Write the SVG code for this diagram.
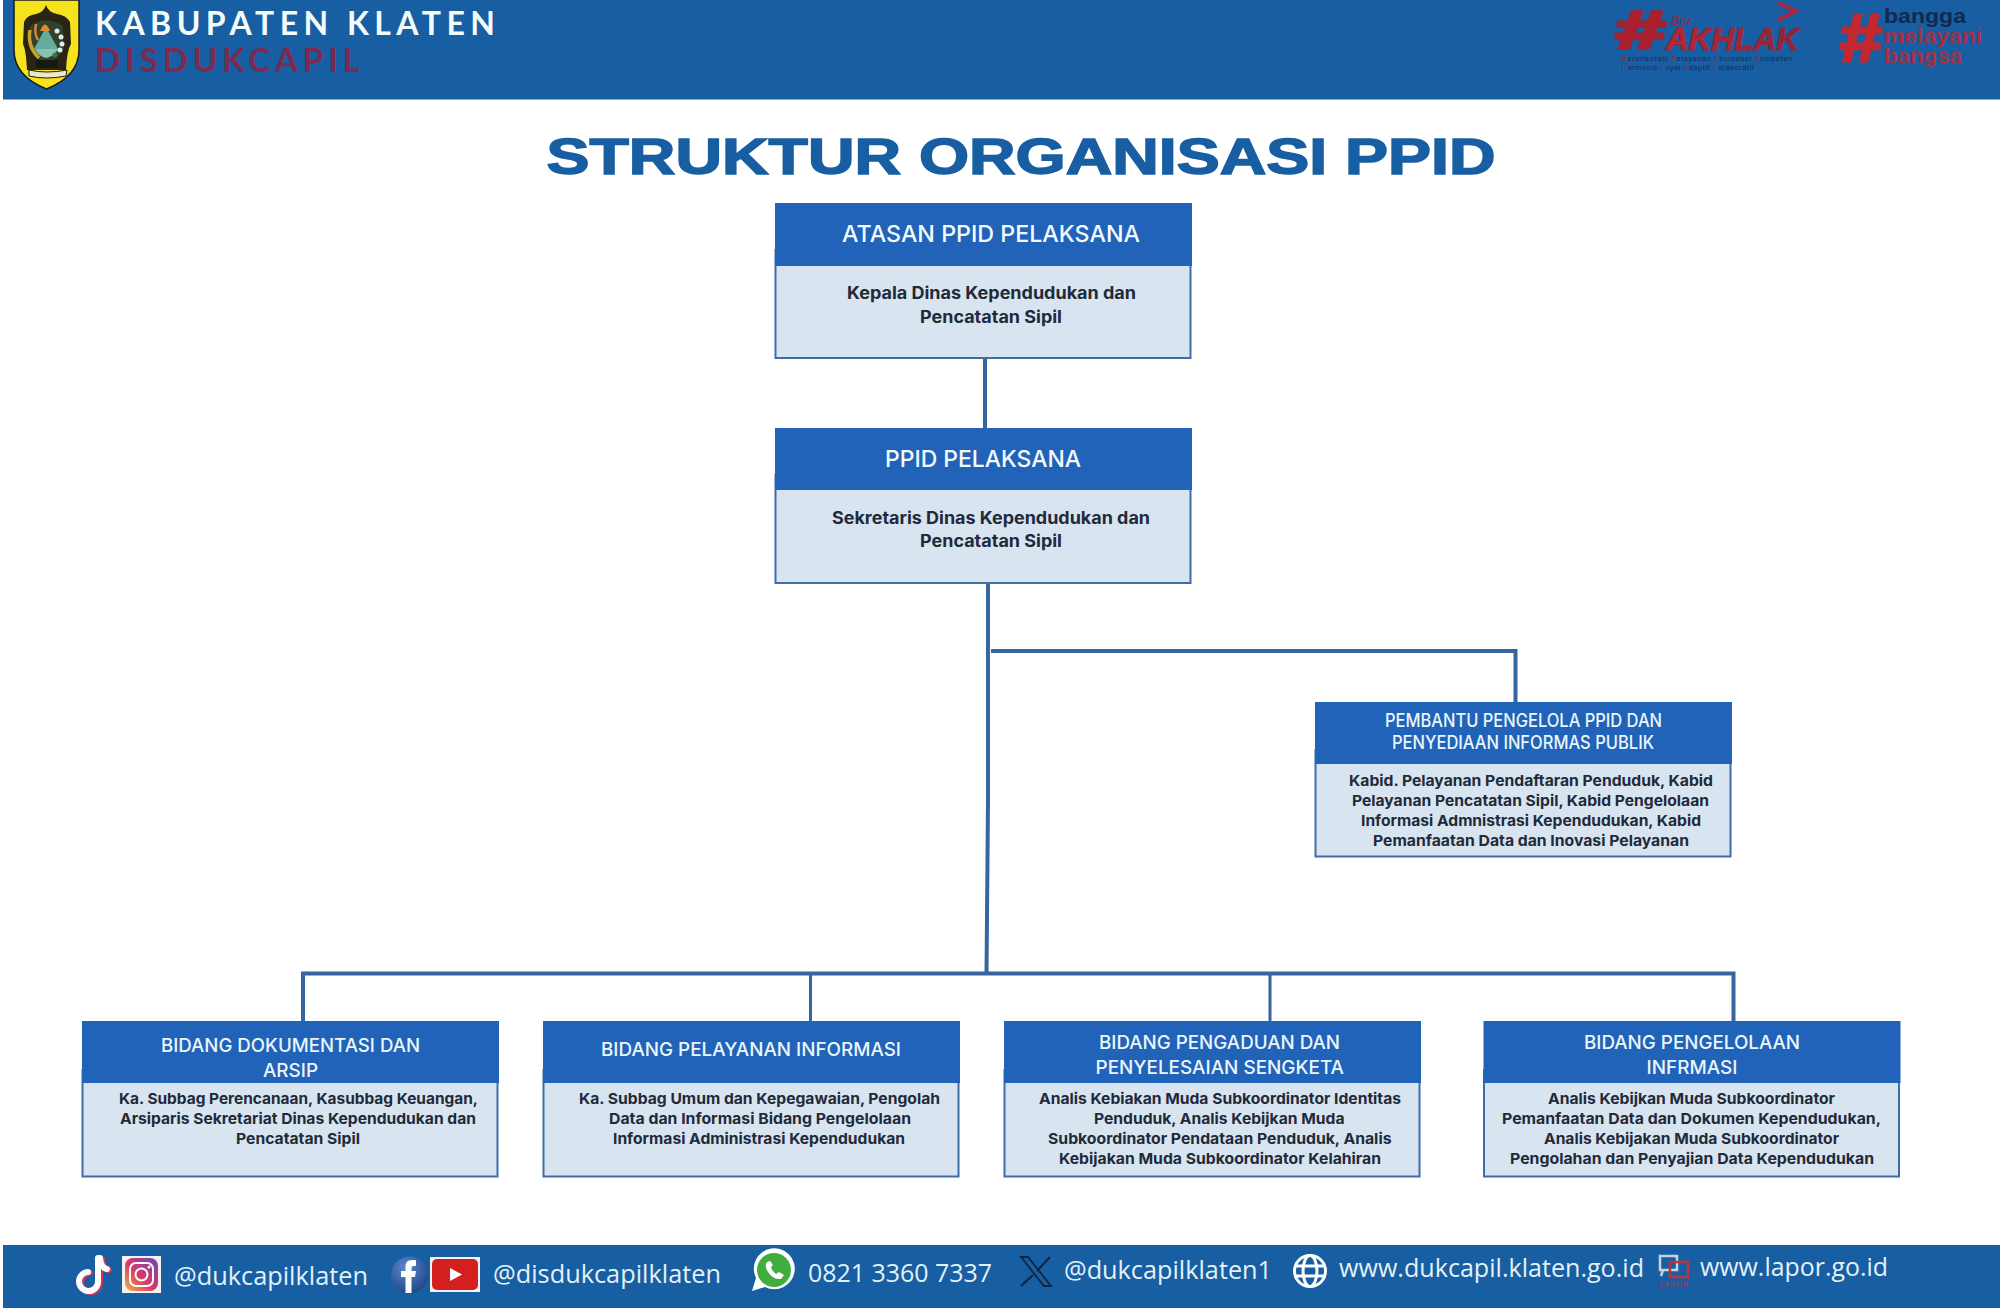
<svg xmlns="http://www.w3.org/2000/svg" width="2000" height="1308" viewBox="0 0 2000 1308">
<style>
.hd{fill:#eaf6fb;font-family:Inter,"Liberation Sans",sans-serif;font-weight:500}
.h1{font-size:23px;fill:#f4fafc}
.h2{font-size:18px}
.h3{font-size:19px}
.bd{fill:#1f2a3a;font-family:Inter,"Liberation Sans",sans-serif;font-weight:700}
.b1{font-size:17px}
.b2{font-size:15px}
.ft{fill:#e3f1f8;font-family:"Open Sans","Liberation Sans",sans-serif;font-size:26px}
.hdr{fill:#2163b8}
.bdy{fill:#d8e4ef;stroke:#3d6ea8;stroke-width:2}
.ln{fill:none;stroke:#37659f;stroke-linecap:butt}
</style>
<defs>
<linearGradient id="ig" x1="0" y1="1" x2="1" y2="0"><stop offset="0" stop-color="#f5b53c"/><stop offset=".45" stop-color="#d8396b"/><stop offset="1" stop-color="#6a46b5"/></linearGradient>
<radialGradient id="fb" cx=".4" cy=".3" r=".8"><stop offset="0" stop-color="#5b8ad0"/><stop offset="1" stop-color="#1c3f80"/></radialGradient>
<linearGradient id="rd" x1="0" y1="0" x2="1" y2="0"><stop offset="0" stop-color="#c8232c"/><stop offset="1" stop-color="#7a2a45"/></linearGradient>
</defs>
<rect width="2000" height="1308" fill="#ffffff"/>

<g id="top-banner">
<rect x="3" y="0" width="1997" height="99.500" fill="#175ea2"/>
<g id="logo">
<path d="M14 0H79V50Q79 76 46.500 89Q14 76 14 50Z" fill="#f7e21e" stroke="#1a1a1a" stroke-width="1.500"/>
<path d="M24 22Q27 15 36 14Q44 12 46 5Q48 12 57 14Q66 15 70 22L71 44Q67 50 66 70H27Q26 50 23 44Z" fill="#2a2415"/>
<path d="M30 26Q46 15 63 26L64 48Q58 60 47 62Q35 60 29 48Z" fill="#33402d"/>
<path d="M46 27L58 49H34Z" fill="#62ad9d"/>
<path d="M35 49H58Q55 56 46 58Q38 56 35 49Z" fill="#86c3b4"/>
<path d="M40 31Q45 18 50 31Z" fill="#e08a2e"/>
<path d="M30 30Q27 46 39 58" fill="none" stroke="#c9a22c" stroke-width="3.500"/>
<path d="M36 24Q34 34 38 40" fill="none" stroke="#d9822b" stroke-width="2.500"/>
<circle cx="57" cy="31" r="2.500" fill="#dfeee6"/><circle cx="61" cy="37" r="2.500" fill="#dfeee6"/><circle cx="62" cy="44" r="2.500" fill="#dfeee6"/><circle cx="60" cy="50" r="2.500" fill="#dfeee6"/><circle cx="55" cy="55" r="2.500" fill="#2f7a3f"/>
<path d="M36 60H58V68H36Z" fill="#18190f"/>
<path d="M29 70Q46 74 67 70L66 76Q46 80 29 76Z" fill="#ece8c8" stroke="#1a1a1a" stroke-width="1"/>
</g>
<text x="95" y="35" font-family="Lato,'Liberation Sans',sans-serif" font-weight="700" font-size="32" fill="#f4fbfd" textLength="400" lengthAdjust="spacing">KABUPATEN KLATEN</text>
<text x="95" y="72" font-family="Lato,'Liberation Sans',sans-serif" font-weight="700" font-size="33" fill="#7d2a50" textLength="265" lengthAdjust="spacing">DISDUKCAPIL</text>
<g id="akhlak">
<text x="1616" y="48" font-family="'Liberation Sans',sans-serif" font-weight="700" font-size="52" fill="#c4222c" stroke="#a8202e" stroke-width="3.500" textLength="49" lengthAdjust="spacingAndGlyphs">#</text>
<text x="1671" y="25" font-family="'Liberation Sans',sans-serif" font-style="italic" font-size="13" fill="#8a2a48">Ber</text>
<path d="M1778 3L1796 11L1778 20" fill="none" stroke="#a8273f" stroke-width="4"/>
<text x="1666" y="50" font-family="'Liberation Sans',sans-serif" font-weight="700" font-style="italic" font-size="31" fill="url(#rd)" stroke="#9c2438" stroke-width="1" textLength="133" lengthAdjust="spacingAndGlyphs">AKHLAK</text>
<text x="1622" y="60.500" font-family="'Liberation Sans',sans-serif" font-size="7" fill="#152a55" textLength="170"><tspan fill="#8a2a48">B</tspan>erorientasi <tspan fill="#8a2a48">P</tspan>elayanan <tspan fill="#8a2a48">A</tspan>kuntabel <tspan fill="#8a2a48">K</tspan>ompeten</text>
<text x="1622" y="69.500" font-family="'Liberation Sans',sans-serif" font-size="7" fill="#152a55" textLength="132"><tspan fill="#8a2a48">H</tspan>armonis <tspan fill="#8a2a48">L</tspan>oyal <tspan fill="#8a2a48">A</tspan>daptif <tspan fill="#8a2a48">K</tspan>olaboratif</text>
</g>
<g id="bangga">
<text x="1840" y="61" font-family="'Liberation Sans',sans-serif" font-weight="700" font-size="66" fill="#c4282e" stroke="#c4282e" stroke-width="3" textLength="42" lengthAdjust="spacingAndGlyphs">#</text>
<text x="1884" y="23" font-family="'Liberation Sans',sans-serif" font-weight="700" font-size="20" fill="#14294f" textLength="82" lengthAdjust="spacingAndGlyphs">bangga</text>
<text x="1884" y="43" font-family="'Liberation Sans',sans-serif" font-weight="700" font-size="20" fill="#a82f42" textLength="98" lengthAdjust="spacingAndGlyphs">melayani</text>
<text x="1884" y="63" font-family="'Liberation Sans',sans-serif" font-weight="700" font-size="20" fill="#a82f42" textLength="78" lengthAdjust="spacingAndGlyphs">bangsa</text>
</g>
</g>

<text id="title" x="546.500" y="174" font-family="'Liberation Sans',Arimo,sans-serif" font-weight="700" font-size="50" fill="#175ea2" stroke="#175ea2" stroke-width="1.500" textLength="949" lengthAdjust="spacingAndGlyphs">STRUKTUR ORGANISASI PPID</text>

<g id="connectors">
<path class="ln" stroke-width="4" d="M985 358V428"/>
<path class="ln" stroke-width="4" d="M988 583V800L986.500 974"/>
<path class="ln" stroke-width="4" d="M991 651H1515.500V702"/>
<path class="ln" stroke-width="4" d="M303 1021V973.500H1733.500V1021"/>
<path class="ln" stroke-width="3" d="M810.500 974V1021"/>
<path class="ln" stroke-width="3" d="M1270 974V1021"/>
</g>

<g id="node-atasan">
<rect class="bdy" x="775.500" y="250" width="415" height="108"/>
<rect class="hdr" x="775" y="203" width="417" height="63"/>
<text class="hd h1" x="842" y="241.500" textLength="298" lengthAdjust="spacingAndGlyphs">ATASAN PPID PELAKSANA</text>
<text class="bd b1" x="847" y="299" textLength="289" lengthAdjust="spacingAndGlyphs">Kepala Dinas Kependudukan dan</text>
<text class="bd b1" x="920" y="322.500" textLength="142" lengthAdjust="spacingAndGlyphs">Pencatatan Sipil</text>
</g>

<g id="node-pelaksana">
<rect class="bdy" x="775.500" y="475" width="415" height="108"/>
<rect class="hdr" x="775" y="428" width="417" height="62"/>
<text class="hd h1" x="885" y="466.500" textLength="196" lengthAdjust="spacingAndGlyphs">PPID PELAKSANA</text>
<text class="bd b1" x="832" y="524" textLength="318" lengthAdjust="spacingAndGlyphs">Sekretaris Dinas Kependudukan dan</text>
<text class="bd b1" x="920" y="546.500" textLength="142" lengthAdjust="spacingAndGlyphs">Pencatatan Sipil</text>
</g>

<g id="node-pembantu">
<rect class="bdy" x="1315.500" y="750" width="415" height="106.500"/>
<rect class="hdr" x="1315" y="702" width="417" height="62"/>
<text class="hd h2" x="1385" y="726.500" textLength="277" lengthAdjust="spacingAndGlyphs">PEMBANTU PENGELOLA PPID DAN</text>
<text class="hd h2" x="1392" y="749" textLength="262" lengthAdjust="spacingAndGlyphs">PENYEDIAAN INFORMAS PUBLIK</text>
<text class="bd b2" x="1349" y="785.500" textLength="364" lengthAdjust="spacingAndGlyphs">Kabid. Pelayanan Pendaftaran Penduduk, Kabid</text>
<text class="bd b2" x="1352" y="805.500" textLength="357" lengthAdjust="spacingAndGlyphs">Pelayanan Pencatatan Sipil, Kabid Pengelolaan</text>
<text class="bd b2" x="1361" y="825.500" textLength="340" lengthAdjust="spacingAndGlyphs">Informasi Admnistrasi Kependudukan, Kabid</text>
<text class="bd b2" x="1373" y="845.500" textLength="316" lengthAdjust="spacingAndGlyphs">Pemanfaatan Data dan Inovasi Pelayanan</text>
</g>

<g id="node-dokumentasi">
<rect class="bdy" x="82.500" y="1070" width="415" height="106.500"/>
<rect class="hdr" x="82" y="1021" width="417" height="62"/>
<text class="hd h3" x="161" y="1051.500" textLength="259" lengthAdjust="spacingAndGlyphs">BIDANG DOKUMENTASI DAN</text>
<text class="hd h3" x="263" y="1076.500" textLength="55" lengthAdjust="spacingAndGlyphs">ARSIP</text>
<text class="bd b2" x="119" y="1104" textLength="359" lengthAdjust="spacingAndGlyphs">Ka. Subbag Perencanaan, Kasubbag Keuangan,</text>
<text class="bd b2" x="120" y="1124" textLength="356" lengthAdjust="spacingAndGlyphs">Arsiparis Sekretariat Dinas Kependudukan dan</text>
<text class="bd b2" x="236" y="1144" textLength="124" lengthAdjust="spacingAndGlyphs">Pencatatan Sipil</text>
</g>

<g id="node-pelayanan">
<rect class="bdy" x="543.500" y="1070" width="415" height="106.500"/>
<rect class="hdr" x="543" y="1021" width="417" height="62"/>
<text class="hd h3" x="601" y="1056" textLength="300" lengthAdjust="spacingAndGlyphs">BIDANG PELAYANAN INFORMASI</text>
<text class="bd b2" x="579" y="1104" textLength="361" lengthAdjust="spacingAndGlyphs">Ka. Subbag Umum dan Kepegawaian, Pengolah</text>
<text class="bd b2" x="609" y="1124" textLength="302" lengthAdjust="spacingAndGlyphs">Data dan Informasi Bidang Pengelolaan</text>
<text class="bd b2" x="613" y="1144" textLength="292" lengthAdjust="spacingAndGlyphs">Informasi Administrasi Kependudukan</text>
</g>

<g id="node-pengaduan">
<rect class="bdy" x="1004.500" y="1070" width="415" height="106.500"/>
<rect class="hdr" x="1004" y="1021" width="417" height="62"/>
<text class="hd h3" x="1099" y="1049" textLength="241" lengthAdjust="spacingAndGlyphs">BIDANG PENGADUAN DAN</text>
<text class="hd h3" x="1095.500" y="1074" textLength="248.500" lengthAdjust="spacingAndGlyphs">PENYELESAIAN SENGKETA</text>
<text class="bd b2" x="1039" y="1104" textLength="362" lengthAdjust="spacingAndGlyphs">Analis Kebiakan Muda Subkoordinator Identitas</text>
<text class="bd b2" x="1094" y="1124" textLength="250.500" lengthAdjust="spacingAndGlyphs">Penduduk, Analis Kebijkan Muda</text>
<text class="bd b2" x="1048" y="1144" textLength="343.500" lengthAdjust="spacingAndGlyphs">Subkoordinator Pendataan Penduduk, Analis</text>
<text class="bd b2" x="1059" y="1164" textLength="322" lengthAdjust="spacingAndGlyphs">Kebijakan Muda Subkoordinator Kelahiran</text>
</g>

<g id="node-pengelolaan">
<rect class="bdy" x="1484" y="1070" width="415" height="106.500"/>
<rect class="hdr" x="1483.500" y="1021" width="417" height="62"/>
<text class="hd h3" x="1584" y="1049" textLength="216" lengthAdjust="spacingAndGlyphs">BIDANG PENGELOLAAN</text>
<text class="hd h3" x="1646.500" y="1074" textLength="91" lengthAdjust="spacingAndGlyphs">INFRMASI</text>
<text class="bd b2" x="1548" y="1104" textLength="287" lengthAdjust="spacingAndGlyphs">Analis Kebijkan Muda Subkoordinator</text>
<text class="bd b2" x="1502" y="1124" textLength="379" lengthAdjust="spacingAndGlyphs">Pemanfaatan Data dan Dokumen Kependudukan,</text>
<text class="bd b2" x="1544" y="1144" textLength="295" lengthAdjust="spacingAndGlyphs">Analis Kebijakan Muda Subkoordinator</text>
<text class="bd b2" x="1510" y="1164" textLength="364" lengthAdjust="spacingAndGlyphs">Pengolahan dan Penyajian Data Kependudukan</text>
</g>

<g id="footer">
<rect x="3" y="1245" width="1997" height="63" fill="#175ea2"/>
<g id="tiktok" fill="none" stroke-linecap="round">
<path d="M101 1258Q102 1268 108 1269M99 1258V1282A9.500 9.500 0 1 1 89 1272" stroke="#d9305d" stroke-width="6" transform="translate(1 1)"/>
<path d="M100 1258Q101 1268 107 1269M98 1258V1282A9.500 9.500 0 1 1 88 1272" stroke="#ffffff" stroke-width="6"/>
</g>
<g id="instagram">
<rect x="122" y="1256" width="39" height="37" fill="#f4f1ee"/>
<rect x="125" y="1258" width="33" height="33" rx="8" fill="url(#ig)"/>
<rect x="130" y="1263" width="23" height="23" rx="6" fill="none" stroke="#fff" stroke-width="2"/>
<circle cx="141.500" cy="1274.500" r="6" fill="none" stroke="#fff" stroke-width="2"/>
<circle cx="149" cy="1267" r="1.500" fill="#fff"/>
</g>
<text class="ft" x="174" y="1285" textLength="194" lengthAdjust="spacingAndGlyphs">@dukcapilklaten</text>
<g id="facebook">
<circle cx="409.500" cy="1275" r="18.500" fill="url(#fb)"/>
<path d="M405.500 1293V1277H401V1271H405.500V1266Q405.500 1260 412 1260H416V1266H413.500Q411.500 1266 411.500 1268V1271H416L415 1277H411.500V1293Z" fill="#fff"/>
</g>
<g id="youtube">
<rect x="430" y="1257" width="50" height="35" fill="#f2f2f2"/>
<rect x="432" y="1259" width="46" height="31" rx="5" fill="#d3201f"/>
<path d="M450 1268L462 1274.500L450 1281Z" fill="#fff"/>
</g>
<text class="ft" x="493" y="1282.500" textLength="228" lengthAdjust="spacingAndGlyphs">@disdukcapilklaten</text>
<g id="whatsapp">
<path d="M752 1291L756 1278A20.500 20.500 0 1 1 765 1287Z" fill="#fff"/>
<circle cx="774" cy="1270" r="17" fill="#3fae3c"/>
<path d="M767 1262Q764 1266 768 1272Q773 1280 781 1279L784 1275L779 1272L776 1274Q772 1271 771 1267L773 1265L770 1261Z" fill="#fff"/>
</g>
<text class="ft" x="808" y="1282" textLength="184" lengthAdjust="spacingAndGlyphs">0821 3360 7337</text>
<g id="x-icon" fill="none" stroke="#10243f">
<path d="M1021 1257L1044 1286H1051L1028 1257Z" stroke-width="1.800"/>
<path d="M1050 1257L1037 1271M1033 1275L1021 1286" stroke-width="2"/>
</g>
<text class="ft" x="1064" y="1279" textLength="208" lengthAdjust="spacingAndGlyphs">@dukcapilklaten1</text>
<g id="globe" fill="none" stroke="#fff" stroke-width="3">
<circle cx="1310" cy="1271" r="15.500"/>
<ellipse cx="1310" cy="1271" rx="7" ry="15.500"/>
<path d="M1295 1266H1325M1295 1276H1325"/>
</g>
<text class="ft" x="1339" y="1277" textLength="305" lengthAdjust="spacingAndGlyphs">www.dukcapil.klaten.go.id</text>
<g id="lapor">
<rect x="1660" y="1256" width="17" height="14" fill="none" stroke="#c9d2dc" stroke-width="2.500"/>
<path d="M1663 1270L1661 1276" stroke="#c9d2dc" stroke-width="2.500"/>
<rect x="1670" y="1262" width="18" height="15" fill="none" stroke="#b8343f" stroke-width="2.500"/>
<text x="1659" y="1287" font-family="'Liberation Sans',sans-serif" font-size="7" fill="#a8384a" textLength="29">LAPOR</text>
</g>
<text class="ft" x="1700" y="1276" textLength="188" lengthAdjust="spacingAndGlyphs">www.lapor.go.id</text>
</g>
</svg>
